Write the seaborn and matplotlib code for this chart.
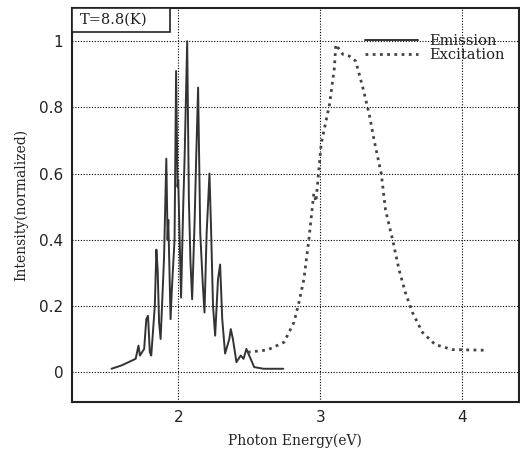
import matplotlib
matplotlib.use("Agg")
import matplotlib.pyplot as plt
import seaborn as sns
import pandas as pd
from matplotlib.ticker import MultipleLocator
from matplotlib.patches import Rectangle

# Emission spectrum (solid)
em_x = [1.53, 1.60, 1.65, 1.70, 1.72, 1.73, 1.76, 1.775, 1.787, 1.80, 1.81,
        1.835, 1.846, 1.855, 1.865, 1.876, 1.90, 1.916, 1.925, 1.93, 1.946,
        1.955, 1.974, 1.985, 1.995, 2.00, 2.02, 2.035, 2.045, 2.063, 2.075,
        2.086, 2.098, 2.115, 2.126, 2.14, 2.155, 2.173, 2.185, 2.20, 2.208,
        2.22, 2.232, 2.245, 2.26, 2.28, 2.295, 2.31, 2.33, 2.36, 2.37, 2.385,
        2.41, 2.44, 2.46, 2.48, 2.50, 2.535, 2.60, 2.74]
em_y = [0.01, 0.02, 0.03, 0.04, 0.08, 0.05, 0.07, 0.16, 0.17, 0.06, 0.05,
        0.20, 0.37, 0.31, 0.15, 0.10, 0.345, 0.645, 0.40, 0.46, 0.16,
        0.25, 0.40, 0.91, 0.56, 0.58, 0.225, 0.50, 0.65, 1.00, 0.52,
        0.335, 0.22, 0.45, 0.64, 0.86, 0.42, 0.265, 0.18, 0.42, 0.49,
        0.60, 0.42, 0.20, 0.11, 0.28, 0.325, 0.16, 0.056, 0.10, 0.13, 0.10,
        0.03, 0.05, 0.04, 0.07, 0.05, 0.015, 0.01, 0.01]

# Excitation spectrum (dotted)
ex_x = [2.49, 2.63, 2.745, 2.815, 2.85, 2.885, 2.92, 2.955, 2.97, 3.007,
        3.066, 3.10, 3.11, 3.135, 3.16, 3.205, 3.25, 3.30, 3.345, 3.38,
        3.43, 3.46, 3.51, 3.555, 3.60, 3.65, 3.72, 3.81, 3.93, 4.16]
ex_y = [0.06, 0.067, 0.09, 0.15, 0.21, 0.28, 0.40, 0.54, 0.515, 0.69,
        0.81, 0.92, 0.99, 0.975, 0.96, 0.955, 0.94, 0.86, 0.78, 0.70,
        0.60, 0.49, 0.40, 0.31, 0.24, 0.18, 0.12, 0.083, 0.068, 0.066]

x_ticks = [2, 3, 4]
y_ticks = [0, 0.2, 0.4, 0.6, 0.8, 1]
y_tick_labels = ["0", "0.2", "0.4", "0.6", "0.8", "1"]

sns.set_style("white")
plt.rcParams["font.family"] = ["DejaVu Sans"]

df_em = pd.DataFrame({"E": em_x, "I": em_y})
df_ex = pd.DataFrame({"E": ex_x, "I": ex_y})

fig = plt.figure(figsize=(5.2, 4.51), dpi=100)
ax = fig.add_axes([0.138, 0.109, 0.860, 0.873])

sns.lineplot(data=df_em, x="E", y="I", ax=ax, color="#333333", lw=1.4,
             label="Emission", sort=False)
sns.lineplot(data=df_ex, x="E", y="I", ax=ax, color="#444444", lw=2.0,
             ls=(0, (1, 1.6)), label="Excitation", sort=False)

ax.set_xlim(1.25, 4.4)
ax.set_ylim(-0.09, 1.1)
ax.set_xticks(x_ticks)
ax.set_xticklabels([str(t) for t in x_ticks])
ax.set_yticks(y_ticks)
ax.set_yticklabels(y_tick_labels)
ax.xaxis.set_minor_locator(MultipleLocator(0.5))
ax.yaxis.set_minor_locator(MultipleLocator(0.1))
ax.tick_params(axis="both", which="major", direction="in", length=4,
               labelsize=11, color="black", labelcolor="#222222", pad=6)
ax.tick_params(axis="both", which="minor", direction="in", length=2.5)
ax.grid(True, which="major", color="black", ls=(0, (1, 1.5)), lw=0.8)
for sp in ax.spines.values():
    sp.set_visible(True)
    sp.set_color("#222222")
    sp.set_linewidth(1.5)

ax.set_xlabel("Photon Energy(eV)", family="DejaVu Serif", fontsize=10,
              color="#222222", labelpad=6)
ax.set_ylabel("Intensity(normalized)", family="DejaVu Serif", fontsize=10,
              color="#222222", labelpad=8)

# Temperature box attached to the top-left corner
ax.add_patch(Rectangle((0.0, 0.94), 0.22, 0.06, transform=ax.transAxes,
                       fc="white", ec="#222222", lw=1.2, zorder=5))
ax.text(0.018, 0.97, "T=8.8(K)", transform=ax.transAxes, ha="left",
        va="center", family="DejaVu Serif", fontsize=10.5, color="#222222",
        zorder=6)

leg = ax.legend(loc="upper right", bbox_to_anchor=(0.982, 0.95),
                frameon=False, prop={"family": "DejaVu Serif", "size": 10.5},
                handlelength=3.6, borderaxespad=0.0, labelspacing=0.05)
for t in leg.get_texts():
    t.set_color("#222222")

fig.savefig("out.png", dpi=100)
